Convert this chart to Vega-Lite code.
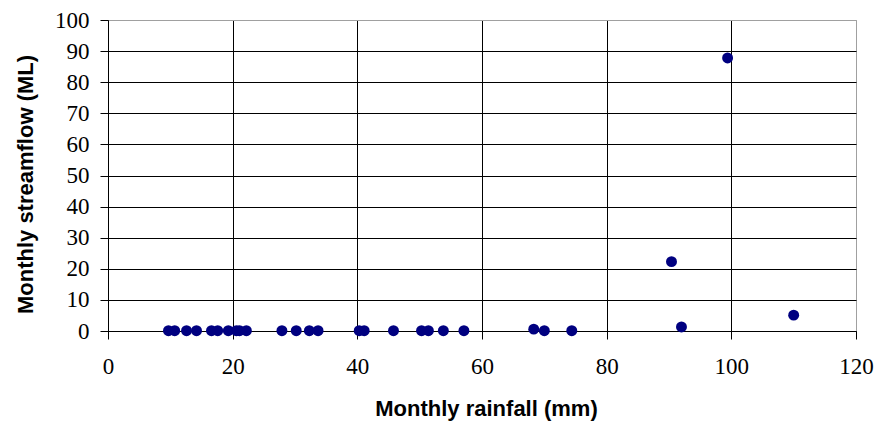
{
  "$schema": "https://vega.github.io/schema/vega-lite/v6.json",
  "autosize": "none",
  "width": 748,
  "height": 311,
  "padding": {"left": 108, "top": 20, "right": 21, "bottom": 95},
  "background": "white",
  "config": {
    "view": {"stroke": "#a0a0a0", "strokeWidth": 1}
  },
  "data": {
    "values": [
      {"rainfall": 9.7, "streamflow": 0.1},
      {"rainfall": 10.7, "streamflow": 0.1},
      {"rainfall": 12.6, "streamflow": 0.1},
      {"rainfall": 14.2, "streamflow": 0.1},
      {"rainfall": 16.6, "streamflow": 0.1},
      {"rainfall": 17.6, "streamflow": 0.1},
      {"rainfall": 19.3, "streamflow": 0.1},
      {"rainfall": 20.6, "streamflow": 0.1},
      {"rainfall": 21.1, "streamflow": 0.1},
      {"rainfall": 22.2, "streamflow": 0.1},
      {"rainfall": 27.9, "streamflow": 0.1},
      {"rainfall": 30.2, "streamflow": 0.1},
      {"rainfall": 32.3, "streamflow": 0.1},
      {"rainfall": 33.7, "streamflow": 0.1},
      {"rainfall": 40.3, "streamflow": 0.1},
      {"rainfall": 41.1, "streamflow": 0.1},
      {"rainfall": 45.8, "streamflow": 0.1},
      {"rainfall": 50.3, "streamflow": 0.1},
      {"rainfall": 51.4, "streamflow": 0.1},
      {"rainfall": 53.8, "streamflow": 0.1},
      {"rainfall": 57.1, "streamflow": 0.1},
      {"rainfall": 68.3, "streamflow": 0.6},
      {"rainfall": 70.0, "streamflow": 0.1},
      {"rainfall": 74.4, "streamflow": 0.1},
      {"rainfall": 90.4, "streamflow": 22.3},
      {"rainfall": 92.0, "streamflow": 1.3},
      {"rainfall": 99.4, "streamflow": 87.8},
      {"rainfall": 110.0, "streamflow": 5.1}
    ]
  },
  "mark": {"type": "point", "filled": true, "shape": "circle", "size": 120, "color": "#000080", "opacity": 1},
  "encoding": {
    "x": {
      "field": "rainfall",
      "type": "quantitative",
      "scale": {"domain": [0, 120], "nice": false, "zero": true},
      "axis": {
        "title": "Monthly rainfall (mm)",
        "values": [0, 20, 40, 60, 80, 100, 120],
        "grid": true,
        "gridColor": {"condition": {"test": "datum.value == 120", "value": "#a0a0a0"}, "value": "black"},
        "gridOpacity": 1,
        "gridWidth": 1,
        "domainColor": "black",
        "domainWidth": 1,
        "tickColor": "black",
        "tickSize": 8,
        "labelFont": "Liberation Serif",
        "labelFontSize": 23,
        "labelColor": "black",
        "labelPadding": 16,
        "titleFont": "Liberation Sans",
        "titleFontSize": 22,
        "titleFontWeight": "bold",
        "titleColor": "black",
        "titleX": 378,
        "titleY": 77,
        "titleAlign": "center",
        "titleBaseline": "middle",
        "labelFlush": false
      }
    },
    "y": {
      "field": "streamflow",
      "type": "quantitative",
      "scale": {"domain": [0, 100], "nice": false, "zero": true},
      "axis": {
        "title": "Monthly streamflow (ML)",
        "values": [0, 10, 20, 30, 40, 50, 60, 70, 80, 90, 100],
        "grid": true,
        "gridColor": {"condition": {"test": "datum.value == 100", "value": "#a0a0a0"}, "value": "black"},
        "gridOpacity": 1,
        "gridWidth": 1,
        "domainColor": "black",
        "domainWidth": 1,
        "tickColor": "black",
        "tickSize": 8,
        "labelFont": "Liberation Serif",
        "labelFontSize": 23,
        "labelColor": "black",
        "labelPadding": 11,
        "titleFont": "Liberation Sans",
        "titleFontSize": 22,
        "titleFontWeight": "bold",
        "titleColor": "black",
        "titleX": -83,
        "titleY": 164,
        "titleAngle": -90,
        "titleAlign": "center",
        "titleBaseline": "middle",
        "labelFlush": false
      }
    }
  }
}
